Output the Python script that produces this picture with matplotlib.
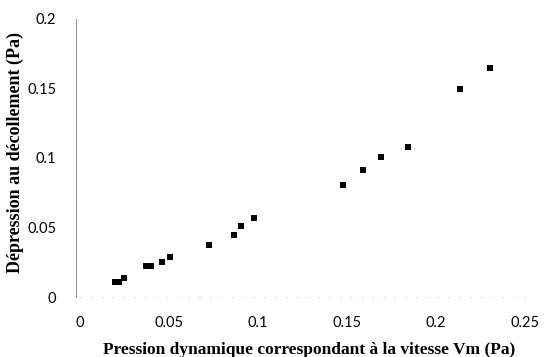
import numpy as np
import matplotlib.pyplot as plt

# measured points: dynamic pressure at Vm vs pressure drop at separation (Pa)
pression_dyn = [0.0196, 0.0218, 0.0249, 0.0373, 0.0398, 0.0461, 0.0506,
                0.0725, 0.0863, 0.0904, 0.0975, 0.1475, 0.1588, 0.1690,
                0.1841, 0.2133, 0.2302]
depression = [0.0107, 0.0107, 0.0134, 0.0220, 0.0220, 0.0253, 0.0286,
              0.0377, 0.0449, 0.0511, 0.0568, 0.0809, 0.0912, 0.1007,
              0.1076, 0.1499, 0.1644]

x_ticks = [0, 0.05, 0.1, 0.15, 0.2, 0.25]
x_labels = ['0', '0.05', '0.1', '0.15', '0.2', '0.25']
y_ticks = [0, 0.05, 0.1, 0.15, 0.2]
y_labels = ['0', '0.05', '0.1', '0.15', '0.2']

fig = plt.figure(figsize=(5.48, 3.57), dpi=100)
ax = fig.add_axes([0.146, 0.168, 0.812, 0.779])

ax.plot(pression_dyn, depression, 's', color='black', markersize=4.5, markeredgewidth=0)

ax.set_xlim(0, 0.25)
ax.set_ylim(0, 0.2)
ax.set_xticks(x_ticks)
ax.set_xticklabels(x_labels)
ax.set_yticks(y_ticks)
ax.set_yticklabels(y_labels)

for s in ['top', 'right']:
    ax.spines[s].set_visible(False)
ax.spines['left'].set_color('#909090')
ax.spines['left'].set_linewidth(0.7)
ax.spines['left'].set_position(('outward', 3))
ax.spines['bottom'].set_color('#c8c8c8')
ax.spines['bottom'].set_linewidth(0.6)
ax.spines['bottom'].set_linestyle((0, (1, 12)))

ax.tick_params(axis='both', length=0, labelsize=10.5, colors='black')
ax.tick_params(axis='x', pad=14)
ax.tick_params(axis='y', pad=14)
for lab in ax.get_xticklabels() + ax.get_yticklabels():
    lab.set_family('Lato')

ax.set_xlabel('Pression dynamique correspondant à la vitesse Vm (Pa)',
              family='Liberation Serif', fontweight='bold', fontsize=12.5)
ax.set_ylabel('Dépression au décollement (Pa)',
              family='Liberation Serif', fontweight='bold', fontsize=13)
ax.xaxis.set_label_coords(0.515, -0.16)
ax.yaxis.set_label_coords(-0.125, 0.52)

fig.savefig('out.png', dpi=100)
